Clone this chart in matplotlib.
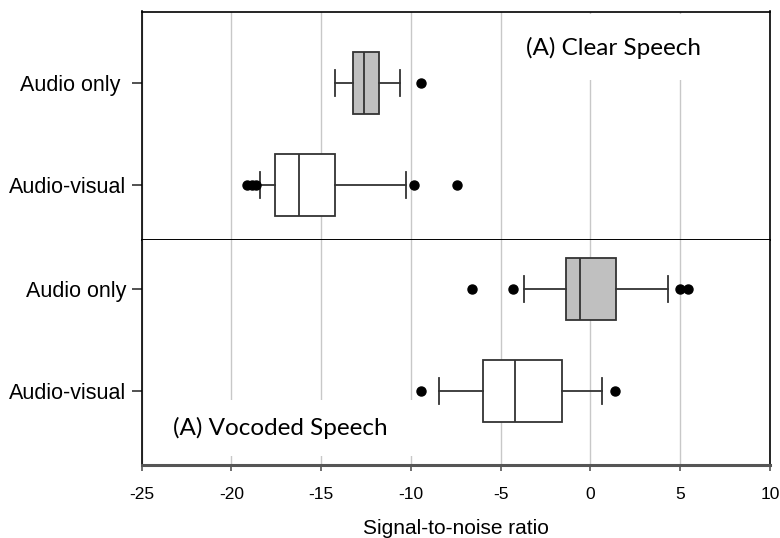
import numpy as np
import matplotlib
matplotlib.use('Agg')
import matplotlib.pyplot as plt
from matplotlib.patches import Rectangle

# box stats read as q1, median, q3, whisker low, whisker high, outliers
groups = ['Audio-visual', 'Audio only']

clear_av = dict(q1=-17.58, med=-16.25, q3=-14.23, whislo=-18.40, whishi=-10.29,
                fliers=[-19.11, -18.85, -18.62, -9.83, -7.45])
clear_ao = dict(q1=-13.21, med=-12.61, q3=-11.78, whislo=-14.24, whishi=-10.62,
                fliers=[-9.45])
voc_av = dict(q1=-6.00, med=-4.20, q3=-1.57, whislo=-8.44, whishi=0.66,
              fliers=[-9.45, 1.36])
voc_ao = dict(q1=-1.38, med=-0.58, q3=1.42, whislo=-3.70, whishi=4.32,
              fliers=[-6.61, -4.30, 4.98, 5.45])

xticks = [-25, -20, -15, -10, -5, 0, 5, 10]

plt.rcParams['font.family'] = ['Liberation Sans', 'DejaVu Sans']
plt.rcParams['axes.unicode_minus'] = False

fig = plt.figure(figsize=(7.8, 5.38), dpi=100)
left, width = 141.5/780, (770-141.5)/780
ax1 = fig.add_axes([left, 1-240/538, width, (240-11.5)/538])
ax2 = fig.add_axes([left, 1-465/538, width, (465-240)/538])

edge = '#333333'

def draw(ax, av, ao, ylim, labels):
    stats = [av, ao]
    bp = ax.bxp(stats, positions=[1, 2], orientation='horizontal', widths=0.6,
                capwidths=0.26, patch_artist=True, showfliers=True,
                boxprops=dict(edgecolor=edge, linewidth=1.3),
                medianprops=dict(color=edge, linewidth=1.3),
                whiskerprops=dict(color=edge, linewidth=1.3),
                capprops=dict(color=edge, linewidth=1.3),
                flierprops=dict(marker='o', markerfacecolor='black',
                                markeredgecolor='black', markersize=6.5))
    bp['boxes'][0].set_facecolor('white')
    bp['boxes'][1].set_facecolor('#c0c0c0')
    for k in bp:
        for a in bp[k]:
            a.set_zorder(3)
    ax.set_xlim(-25, 10)
    ax.set_ylim(*ylim)
    ax.set_xticks(xticks)
    ax.set_yticks([1, 2])
    ax.set_yticklabels(labels, fontsize=15.5)
    ax.grid(axis='x', color='#c8c8c8', linewidth=1.0)
    ax.set_axisbelow(True)
    ax.tick_params(axis='y', length=7, width=1.2, color=edge, pad=4)

draw(ax1, clear_av, clear_ao, (0.46, 2.70), ['Audio-visual', 'Audio only '])
draw(ax2, voc_av, voc_ao, (0.275, 2.48), groups)

ax1.tick_params(axis='x', length=0, labelbottom=False)
for s in ax1.spines.values():
    s.set_color('black')
    s.set_linewidth(1.2)
ax1.spines['bottom'].set_linewidth(1.4)

ax2.spines['top'].set_visible(False)
for s in ['left', 'right']:
    ax2.spines[s].set_color('black')
    ax2.spines[s].set_linewidth(1.2)
ax2.spines['bottom'].set_color('#555555')
ax2.spines['bottom'].set_linewidth(2.2)
ax2.tick_params(axis='x', length=4, width=1.2, color='#555555', labelsize=12.5, pad=12)
ax2.set_xlabel('Signal-to-noise ratio', fontsize=15, labelpad=12)

# panel titles, each on a white patch that hides the grid behind it
ax1.add_patch(Rectangle((0.585, 0.70), 0.37, 0.29, transform=ax1.transAxes,
                        facecolor='white', edgecolor='none', zorder=1))
ax1.text(0.751, 0.84, '(A) Clear Speech', transform=ax1.transAxes, ha='center', va='center',
         fontsize=17.5, family=['Lato', 'DejaVu Sans'], zorder=4)
ax2.add_patch(Rectangle((0.01, 0.04), 0.43, 0.25, transform=ax2.transAxes,
                        facecolor='white', edgecolor='none', zorder=1))
ax2.text(0.221, 0.165, '(A) Vocoded Speech', transform=ax2.transAxes, ha='center', va='center',
         fontsize=17.5, family=['Lato', 'DejaVu Sans'], zorder=4)

plt.savefig('out.png', dpi=100)
